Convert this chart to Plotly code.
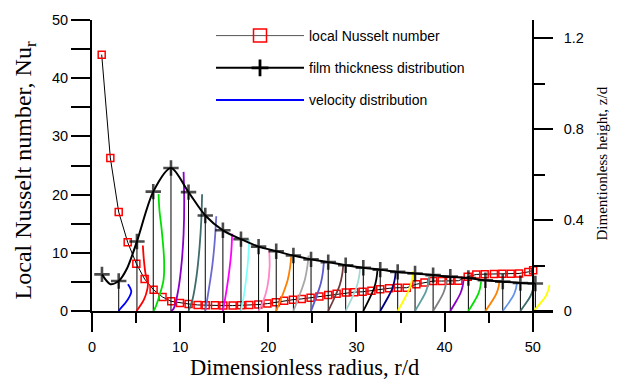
import plotly.graph_objects as go

# ---------------- data ----------------
# local Nusselt number (left axis)
nu_r = [1.1, 2.08, 3.03, 4.05, 5.03, 5.97, 6.99, 8.0, 8.99, 9.98, 10.96, 11.98, 12.9, 13.95,
        14.9, 15.96, 16.9, 17.85, 18.87, 19.9, 20.86, 21.8, 22.8, 23.8, 24.8, 25.8, 26.8,
        27.75, 28.8, 29.75, 30.7, 31.7, 32.7, 33.7, 34.7, 35.7, 36.8, 37.72, 38.7, 39.67,
        40.62, 41.57, 42.62, 43.6, 44.55, 45.6, 46.55, 47.5, 48.45, 49.5, 50.05]
nu_val = [44.05, 26.3, 17.0, 11.8, 8.14, 5.49, 3.63, 2.4, 1.66, 1.38, 1.21, 1.04, 0.98, 0.98,
          0.93, 0.93, 0.98, 1.04, 1.1, 1.27, 1.49, 1.77, 1.94, 2.08, 2.28, 2.5, 2.73, 2.96,
          3.18, 3.24, 3.3, 3.5, 3.74, 3.9, 4.0, 4.0, 4.6, 4.9, 5.15, 5.15, 5.18, 5.2, 5.88,
          6.28, 6.33, 6.36, 6.38, 6.4, 6.45, 6.72, 7.0]

# film thickness distribution (right axis)
film_r = [1.13, 2.08, 3.03, 3.97, 5.1, 6.95, 8.96, 10.95, 12.85, 14.85, 16.9, 18.9, 20.9,
          22.85, 24.85, 26.8, 28.78, 30.78, 32.7, 34.68, 36.65, 38.7, 40.65, 42.7, 44.63,
          46.6, 48.6, 50.3]
film_z = [0.161, 0.118, 0.132, 0.187, 0.306, 0.525, 0.629, 0.523, 0.42, 0.355, 0.316, 0.283,
          0.263, 0.244, 0.227, 0.215, 0.201, 0.19, 0.182, 0.172, 0.165, 0.158, 0.151, 0.145,
          0.135, 0.129, 0.123, 0.121]
film_line_only = [1, 3]   # points on the curve drawn without a "+" marker

# velocity distribution profiles (right axis): station, offsets in r/d, heights in z/d
prof_r = [3.03, 5.05, 6.98, 8.96, 10.95, 12.85, 14.85, 16.9, 18.9, 20.9, 22.85, 24.85, 26.8,
          28.78, 30.78, 32.7, 34.68, 36.65, 38.7, 40.65, 42.7, 44.63, 46.6, 48.6, 50.1]
prof_dx = [
    [0, 0.18, 0.75, 1.24, 1.43, 1.32, 1.05],
    [0, 0.19, 0.84, 1.21, 1.29, 1.02, 0.84, 0.72],
    [0, 0.15, 0.64, 1.13, 1.2, 0.9, 0.68, 0.57],
    [0, 0.3, 0.83, 1.2, 1.43, 1.5, 1.43],
    [0, 0.45, 0.9, 1.25, 1.45, 1.54],
    [0, 0.42, 0.8, 1.06, 1.25],
    [0, 0.32, 0.6, 0.93, 1.05],
    [0, 0.3, 0.57, 0.82, 0.94],
    [0, 0.5, 1.0, 1.25, 1.2],
    [0, 0.8, 1.3, 1.58, 1.7],
    [0, 0.8, 1.31, 1.58, 1.72],
    [0, 0.68, 1.12, 1.35, 1.45],
    [0, 0.8, 1.31, 1.58, 1.7],
    [0, 0.77, 1.25, 1.52, 1.63],
    [0, 0.75, 1.23, 1.49, 1.6],
    [0, 0.82, 1.35, 1.63, 1.75],
    [0, 0.82, 1.35, 1.63, 1.75],
    [0, 0.75, 1.23, 1.49, 1.6],
    [0, 0.7, 1.15, 1.4, 1.5],
    [0, 0.7, 1.15, 1.4, 1.5],
    [0, 0.68, 1.11, 1.34, 1.44],
    [0, 0.75, 1.22, 1.48, 1.59],
    [0, 0.75, 1.23, 1.49, 1.6],
    [0, 0.7, 1.15, 1.4, 1.5],
    [0, 0.85, 1.39, 1.67, 1.8],
]
prof_z = [
    [0, 0.01, 0.035, 0.064, 0.086, 0.10, 0.118],
    [0, 0.01, 0.05, 0.093, 0.122, 0.165, 0.223, 0.288],
    [0, 0.01, 0.064, 0.136, 0.223, 0.367, 0.44, 0.514],
    [0, 0.01, 0.093, 0.208, 0.338, 0.482, 0.612],
    [0, 0.05, 0.15, 0.28, 0.40, 0.514],
    [0, 0.1, 0.2, 0.3, 0.417],
    [0, 0.07, 0.14, 0.25, 0.34],
    [0, 0.06, 0.136, 0.23, 0.316],
    [0, 0.04, 0.107, 0.194, 0.266],
    [0, 0.079, 0.136, 0.194, 0.24],
    [0, 0.08, 0.14, 0.195, 0.244],
    [0, 0.071, 0.123, 0.172, 0.215],
    [0, 0.066, 0.114, 0.16, 0.2],
    [0, 0.062, 0.107, 0.15, 0.187],
    [0, 0.059, 0.101, 0.142, 0.178],
    [0, 0.056, 0.097, 0.136, 0.17],
    [0, 0.057, 0.099, 0.139, 0.174],
    [0, 0.05, 0.085, 0.12, 0.15],
    [0, 0.045, 0.078, 0.109, 0.136],
    [0, 0.045, 0.078, 0.109, 0.136],
    [0, 0.043, 0.074, 0.103, 0.129],
    [0, 0.043, 0.074, 0.103, 0.129],
    [0, 0.04, 0.07, 0.098, 0.122],
    [0, 0.038, 0.066, 0.092, 0.115],
    [0, 0.038, 0.066, 0.092, 0.115],
]
prof_colors = ["#0000FF", "#FF0000", "#00E000", "#8B00C8", "#3E6B6B", "#6A6ACF", "#FF00FF",
               "#80FFFF", "#FF88C8", "#FF7F00", "#A8A8A8", "#5A5AD0", "#6E3C3C", "#A6D8D8",
               "#000000", "#00007F", "#FFFF00", "#5F9EA0", "#808080", "#8B00C8", "#00E000",
               "#FF7F00", "#6495ED", "#3E6B6B", "#FFFF00"]

x_ticks = [0, 10, 20, 30, 40, 50]
x_minor = [5, 15, 25, 35, 45]
y_ticks = [0, 10, 20, 30, 40, 50]
y_minor = [5, 15, 25, 35, 45]
y2_ticks = [0, 0.4, 0.8, 1.2]
y2_ticktext = ["0", "0.4", "0.8", "1.2"]
y2_minor = [0.2, 0.6, 1.0]

# ---------------- layout geometry ----------------
W, H = 623, 382
ML, MR, MT, MB = 92, 70, 15, 71
XR = [0, 52.3]
PW, PH = W - ML - MR, H - MT - MB


def px_x(px):
    return (px - ML) / PW


def px_y(py):
    return (H - MB - py) / PH


SANS = "Liberation Sans, Arial, sans-serif"
SERIF = "Liberation Serif, Times New Roman, serif"

fig = go.Figure()

# thin vertical station lines from wall to film surface
vx, vy = [], []
for i, (r, z) in enumerate(zip(film_r, film_z)):
    if i == 0 or i in film_line_only:
        continue
    vx += [r, r, None]
    vy += [0, z, None]
fig.add_trace(go.Scatter(x=vx, y=vy, yaxis="y2", mode="lines",
                         line=dict(color="black", width=1), showlegend=False,
                         hoverinfo="skip"))

# velocity profiles
for r, dxs, zs, c in zip(prof_r, prof_dx, prof_z, prof_colors):
    fig.add_trace(go.Scatter(x=[r + d for d in dxs], y=zs, yaxis="y2", mode="lines",
                             line=dict(color=c, width=1.8, shape="spline", smoothing=1.0),
                             showlegend=False))

# Nusselt number
fig.add_trace(go.Scatter(x=nu_r, y=nu_val, mode="lines+markers",
                         line=dict(color="black", width=1),
                         marker=dict(symbol="square-open", size=7, color="red",
                                     line=dict(color="red", width=1.5)),
                         showlegend=False))

# film thickness
fig.add_trace(go.Scatter(x=film_r, y=film_z, yaxis="y2", mode="lines+markers",
                         line=dict(color="black", width=2, shape="spline", smoothing=0.8),
                         marker=dict(symbol="cross-thin", color="black",
                                     size=[0 if i in film_line_only else 11
                                           for i in range(len(film_r))],
                                     line=dict(color="black", width=2.6)),
                         showlegend=False))

# legend entries
fig.add_trace(go.Scatter(x=[None], y=[None], mode="lines+markers", name="local Nusselt number",
                         line=dict(color="#555555", width=1),
                         marker=dict(symbol="square-open", size=13, color="red",
                                     line=dict(color="red", width=1.5)),
                         legendgroup="a"))
fig.add_trace(go.Scatter(x=[None], y=[None], mode="lines+markers",
                         name="film thickness distribution",
                         line=dict(color="black", width=2),
                         marker=dict(symbol="cross-thin", size=12, color="black",
                                     line=dict(color="black", width=2.8)),
                         legendgroup="b"))
fig.add_trace(go.Scatter(x=[None], y=[None], mode="lines", name="velocity distribution",
                         line=dict(color="#0000FF", width=2), legendgroup="c"))

axis_common = dict(showgrid=False, zeroline=False, showline=True, linecolor="black",
                   linewidth=2, ticks="outside", tickcolor="black", tickwidth=2,
                   ticklen=19, tickfont=dict(family=SANS, size=14.5, color="black"))

fig.update_layout(
    width=W, height=H,
    margin=dict(l=ML, r=MR, t=MT, b=MB, pad=0),
    paper_bgcolor="white", plot_bgcolor="white",
    xaxis=dict(range=XR, tickmode="array", tickvals=x_ticks, ticklabelstandoff=3,
               minor=dict(tickmode="array", tickvals=x_minor, ticks="outside", ticklen=10,
                          tickwidth=2, tickcolor="black"),
               **axis_common),
    yaxis=dict(range=[0, 50], tickmode="array", tickvals=y_ticks,
               minor=dict(tickmode="array", tickvals=y_minor, ticks="outside", ticklen=19,
                          tickwidth=2, tickcolor="black"),
               **axis_common),
    yaxis2=dict(range=[0, 1.28], overlaying="y", anchor="free", side="right",
                position=50 / XR[1], tickmode="array", tickvals=y2_ticks,
                ticktext=y2_ticktext, ticklabelstandoff=8,
                minor=dict(tickmode="array", tickvals=y2_minor, ticks="outside", ticklen=11,
                           tickwidth=2, tickcolor="black"),
                **axis_common),
    showlegend=True,
    legend=dict(x=px_x(211), y=px_y(15), xanchor="left", yanchor="top",
                bgcolor="rgba(0,0,0,0)", borderwidth=0, tracegroupgap=11, itemwidth=88,
                font=dict(family=SANS, size=14, color="black")),
    annotations=[
        dict(text="Dimensionless radius, r/d", xref="paper", yref="paper",
             x=px_x(304), y=px_y(368), xanchor="center", yanchor="middle", showarrow=False,
             font=dict(family=SERIF, size=22.5, color="black")),
        dict(text="Local Nusselt number, Nu<sub>r</sub>", xref="paper", yref="paper",
             x=px_x(25), y=px_y(168), xanchor="center", yanchor="middle", showarrow=False,
             textangle=-90, font=dict(family=SERIF, size=24, color="black")),
        dict(text="Dimentionless height, z/d", xref="paper", yref="paper",
             x=px_x(602), y=px_y(161), xanchor="center", yanchor="middle", showarrow=False,
             textangle=-90, font=dict(family=SERIF, size=15, color="black")),
    ],
)

fig.write_html("out.html")
